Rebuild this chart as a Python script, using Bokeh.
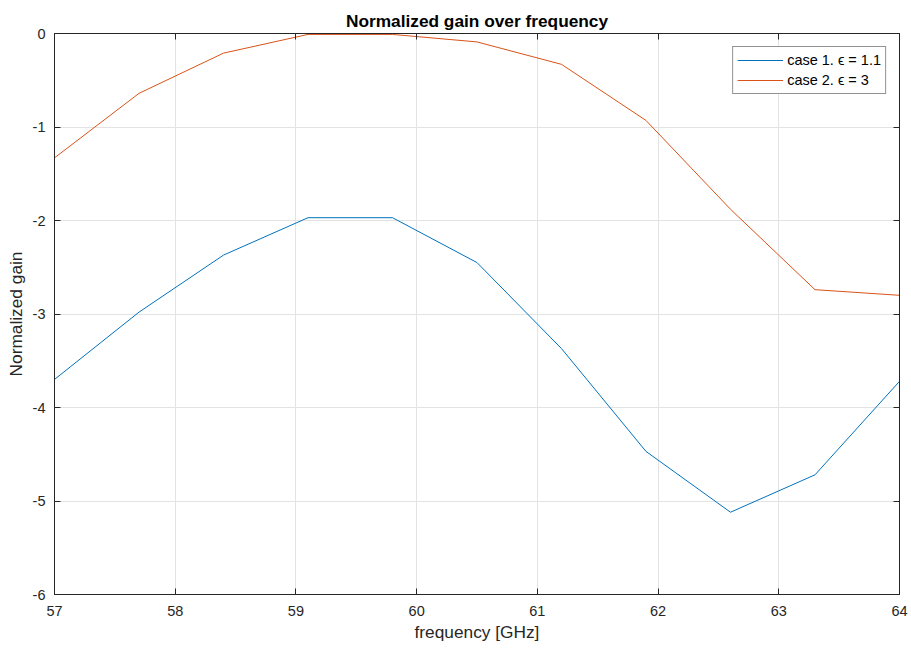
from bokeh.plotting import figure
from bokeh.models import LinearAxis, Legend, LegendItem, Range1d, FixedTicker, Title, CustomJSTickFormatter
from bokeh.embed import file_html
from bokeh.resources import INLINE

freq = [57.0, 57.7, 58.4, 59.1, 59.8, 60.5, 61.2, 61.9, 62.6, 63.3, 64.0]
case1 = [-3.70, -2.98, -2.37, -1.97, -1.97, -2.45, -3.37, -4.47, -5.12, -4.72, -3.72]
case2 = [-1.33, -0.64, -0.21, -0.01, -0.01, -0.09, -0.33, -0.93, -1.88, -2.74, -2.80]
labels = ["case 1. \u03f5 = 1.1", "case 2. \u03f5 = 3"]
xticks = [57, 58, 59, 60, 61, 62, 63, 64]
yticks = [-6, -5, -4, -3, -2, -1, 0]

FONT = "Liberation Sans"
DARK = "#262626"

p = figure(width=911, height=648, output_backend="svg", toolbar_location=None,
           x_range=Range1d(57, 64), y_range=Range1d(-6, 0),
           min_border_left=54, min_border_right=12, min_border_top=33, min_border_bottom=54,
           x_axis_label="frequency [GHz]", y_axis_label="Normalized gain")
p.title = Title(text="Normalized gain over frequency", align="center",
                text_font=FONT, text_font_size="17.3px", text_font_style="bold",
                text_color="#000000", offset=0)
p.title.standoff = 5

r1 = p.line(freq, case1, line_color="#0072BD", line_width=1)
r2 = p.line(freq, case2, line_color="#D95319", line_width=1)

plain = CustomJSTickFormatter(code="return tick.toFixed(0)")
for ax in (p.xaxis[0], p.yaxis[0]):
    ax.major_tick_in = 6
    ax.major_tick_out = 0
    ax.minor_tick_in = 0
    ax.minor_tick_out = 0
    ax.axis_line_color = DARK
    ax.major_tick_line_color = DARK
    ax.formatter = plain
    ax.major_label_text_font = FONT
    ax.major_label_text_font_size = "14.5px"
    ax.major_label_text_color = DARK
    ax.axis_label_text_font = FONT
    ax.axis_label_text_font_size = "17.3px"
    ax.axis_label_text_font_style = "normal"
    ax.axis_label_text_color = DARK
p.xaxis[0].ticker = FixedTicker(ticks=xticks)
p.yaxis[0].ticker = FixedTicker(ticks=yticks)
p.xaxis[0].major_label_standoff = 11
p.yaxis[0].major_label_standoff = 9
p.xaxis[0].axis_label_standoff = 3
p.yaxis[0].axis_label_standoff = 4

blank = CustomJSTickFormatter(code="return ''")
top = LinearAxis(ticker=FixedTicker(ticks=xticks), formatter=blank,
                 major_tick_in=6, major_tick_out=0, minor_tick_in=0, minor_tick_out=0,
                 axis_line_color=DARK, major_tick_line_color=DARK,
                 major_label_standoff=0)
right = LinearAxis(ticker=FixedTicker(ticks=yticks), formatter=blank,
                   major_tick_in=6, major_tick_out=0, minor_tick_in=0, minor_tick_out=0,
                   axis_line_color=DARK, major_tick_line_color=DARK,
                   major_label_standoff=0)
p.add_layout(top, "above")
p.add_layout(right, "right")

p.xgrid.ticker = FixedTicker(ticks=xticks)
p.ygrid.ticker = FixedTicker(ticks=yticks)
p.grid.grid_line_color = "#E3E3E3"
p.grid.grid_line_width = 1
p.outline_line_color = DARK
p.background_fill_color = "white"
p.border_fill_color = "white"

legend = Legend(items=[LegendItem(label=labels[0], renderers=[r1]),
                       LegendItem(label=labels[1], renderers=[r2])],
                location="top_right",
                label_text_font=FONT, label_text_font_size="14.5px", label_text_color="#000000",
                border_line_color="#262626", border_line_width=1,
                glyph_width=46, glyph_height=18, label_standoff=4,
                padding=4, spacing=2, margin=13, label_height=18)
p.add_layout(legend)

open("out.html", "w").write(file_html(p, INLINE))
